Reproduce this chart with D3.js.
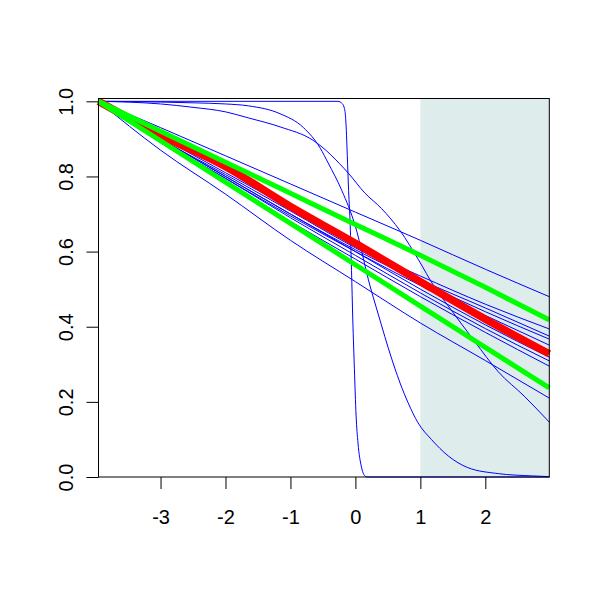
<!DOCTYPE html>
<html>
<head>
<meta charset="utf-8">
<script src="https://d3js.org/d3.v7.min.js"></script>
<style>
  html, body { margin: 0; padding: 0; background: #ffffff; }
  svg { display: block; }
</style>
</head>
<body>
<svg id="chart" width="600" height="600"></svg>
<script>
// ---- data ----
const xTicks = [-3, -2, -1, 0, 1, 2];
const yTicks = [0.0, 0.2, 0.4, 0.6, 0.8, 1.0];
const xTickLabels = ["-3", "-2", "-1", "0", "1", "2"];
const yTickLabels = ["0.0", "0.2", "0.4", "0.6", "0.8", "1.0"];
const xDomain = [-3.955, 2.985];
const yDomain = [0, 1.0075];
const shadeFrom = 1;

const xGrid = [-3.955, -3, -2, -1, 0, 1, 2, 2.985];

// near-linear blue draws
const blueTop    = [1.0, 0.930, 0.855, 0.780, 0.705, 0.630, 0.553, 0.480];
const blueLow    = [1.0, 0.870, 0.753, 0.630, 0.520, 0.410, 0.310, 0.210];
const blueB1     = [1.0, 0.905, 0.810, 0.715, 0.615, 0.535, 0.460, 0.394];
const blueB2     = [1.0, 0.900, 0.805, 0.708, 0.610, 0.525, 0.450, 0.375];
const blueB3     = [1.0, 0.900, 0.800, 0.700, 0.605, 0.520, 0.440, 0.367];
const blueB4     = [1.0, 0.895, 0.795, 0.695, 0.600, 0.510, 0.430, 0.351];
const blueB5     = [1.0, 0.900, 0.800, 0.700, 0.600, 0.500, 0.405, 0.319];
const blueB6     = [1.0, 0.895, 0.795, 0.690, 0.590, 0.490, 0.395, 0.309];
const blueB7     = [1.0, 0.890, 0.785, 0.680, 0.580, 0.480, 0.385, 0.295];

// steep step-like blue draw
const stepX = [-3.955, -0.27, -0.2, -0.16, -0.14, -0.125, -0.105, -0.08, -0.06, -0.04, -0.015, 0.01, 0.04, 0.09, 0.145, 0.18, 2.985];
const stepY = [1.0, 1.0, 0.9935, 0.973, 0.923, 0.856, 0.763, 0.67, 0.55, 0.418, 0.285, 0.165, 0.09, 0.029, 0.003, 0.0, 0.0];

// sigmoid blue draw falling to zero
const sigAX = [-3.955, -3, -2.5, -2, -1.65, -1.16, -0.8, -0.54, -0.42, -0.21, 0.0, 0.226, 0.323, 0.4, 0.503, 0.606, 0.688, 0.81, 0.965, 1.17, 1.43, 1.73, 2.2, 2.71, 2.985];
const sigAY = [1.0, 0.998, 0.996, 0.993, 0.988, 0.967, 0.93, 0.875, 0.836, 0.763, 0.667, 0.508, 0.45, 0.405, 0.345, 0.29, 0.25, 0.198, 0.144, 0.1, 0.056, 0.025, 0.009, 0.003, 0.001];

// slower sigmoid blue draw
const sigBX = [-3.955, -3, -2.5, -2, -1.65, -1.16, -0.65, -0.11, 0.145, 0.4, 0.69, 0.965, 1.22, 1.43, 1.84, 2.2, 2.6, 2.985];
const sigBY = [1.0, 0.993, 0.984, 0.972, 0.956, 0.932, 0.896, 0.809, 0.756, 0.715, 0.655, 0.58, 0.505, 0.455, 0.36, 0.28, 0.215, 0.146];

// summary curves
const meanCurve  = [1.0, 0.910, 0.826, 0.720, 0.622, 0.520, 0.420, 0.328];
const upperBand  = [1.0, 0.920, 0.838, 0.755, 0.672, 0.590, 0.505, 0.418];
const lowerBand  = [1.0, 0.895, 0.785, 0.675, 0.565, 0.455, 0.345, 0.237];

// ---- drawing ----
const svg = d3.select("#chart");
const L = 98.5, R = 549.3, T = 98.5, B = 477;
const FONT = "Liberation Sans, Arial, sans-serif";
const x = d3.scaleLinear().domain(xDomain).range([L, R]);
const y = d3.scaleLinear().domain(yDomain).range([B, T]);

// shaded region
svg.append("rect")
  .attr("x", x(shadeFrom)).attr("y", T)
  .attr("width", x(xDomain[1]) - x(shadeFrom)).attr("height", B - T)
  .attr("fill", "#dfecec");

const line = d3.line().x(d => x(d[0])).y(d => y(d[1])).curve(d3.curveMonotoneX);
const zipGrid = ys => xGrid.map((xv, i) => [xv, ys[i]]);
const zipXY = (xs, ys) => xs.map((xv, i) => [xv, ys[i]]);

const plot = svg.append("g");
const blues = [
  zipGrid(blueTop), zipGrid(blueLow), zipGrid(blueB1), zipGrid(blueB2), zipGrid(blueB3),
  zipGrid(blueB4), zipGrid(blueB5), zipGrid(blueB6), zipGrid(blueB7),
  zipXY(stepX, stepY), zipXY(sigAX, sigAY), zipXY(sigBX, sigBY)
];
plot.selectAll("path.blue").data(blues).enter().append("path")
  .attr("class", "blue")
  .attr("d", line)
  .attr("fill", "none").attr("stroke", "#0000ff").attr("stroke-width", 1);

plot.append("path").datum(zipGrid(meanCurve)).attr("d", line)
  .attr("fill", "none").attr("stroke", "#ff0000").attr("stroke-width", 7.5);
plot.selectAll("path.band").data([zipGrid(upperBand), zipGrid(lowerBand)]).enter().append("path")
  .attr("class", "band").attr("d", line)
  .attr("fill", "none").attr("stroke", "#00ff00").attr("stroke-width", 5);

// axes
const xAxis = d3.axisBottom(x).tickValues(xTicks).tickSize(12)
  .tickFormat((d, i) => xTickLabels[i]);
const gx = svg.append("g").attr("transform", `translate(0,${B})`).call(xAxis);
gx.attr("font-size", null).attr("font-family", null);
gx.select(".domain").remove();
gx.selectAll("line").attr("stroke", "#000");
gx.selectAll("text").attr("font-family", FONT)
  .style("font-size", "20px").attr("fill", "#000").attr("dy", null).attr("y", 47);

const yAxis = d3.axisLeft(y).tickValues(yTicks).tickSize(12)
  .tickFormat((d, i) => yTickLabels[i]);
const gy = svg.append("g").attr("transform", `translate(${L},0)`).call(yAxis);
gy.attr("font-size", null).attr("font-family", null);
gy.select(".domain").remove();
gy.selectAll("line").attr("stroke", "#000");
gy.selectAll("text")
  .attr("font-family", FONT)
  .style("font-size", "20px").attr("fill", "#000")
  .attr("x", null).attr("dy", null).attr("y", null)
  .attr("text-anchor", "middle")
  .attr("transform", "translate(-26,0) rotate(-90)");

// box
svg.append("rect").attr("x", L).attr("y", T).attr("width", R - L).attr("height", B - T)
  .attr("fill", "none").attr("stroke", "#000").attr("stroke-width", 1);
</script>
</body>
</html>
